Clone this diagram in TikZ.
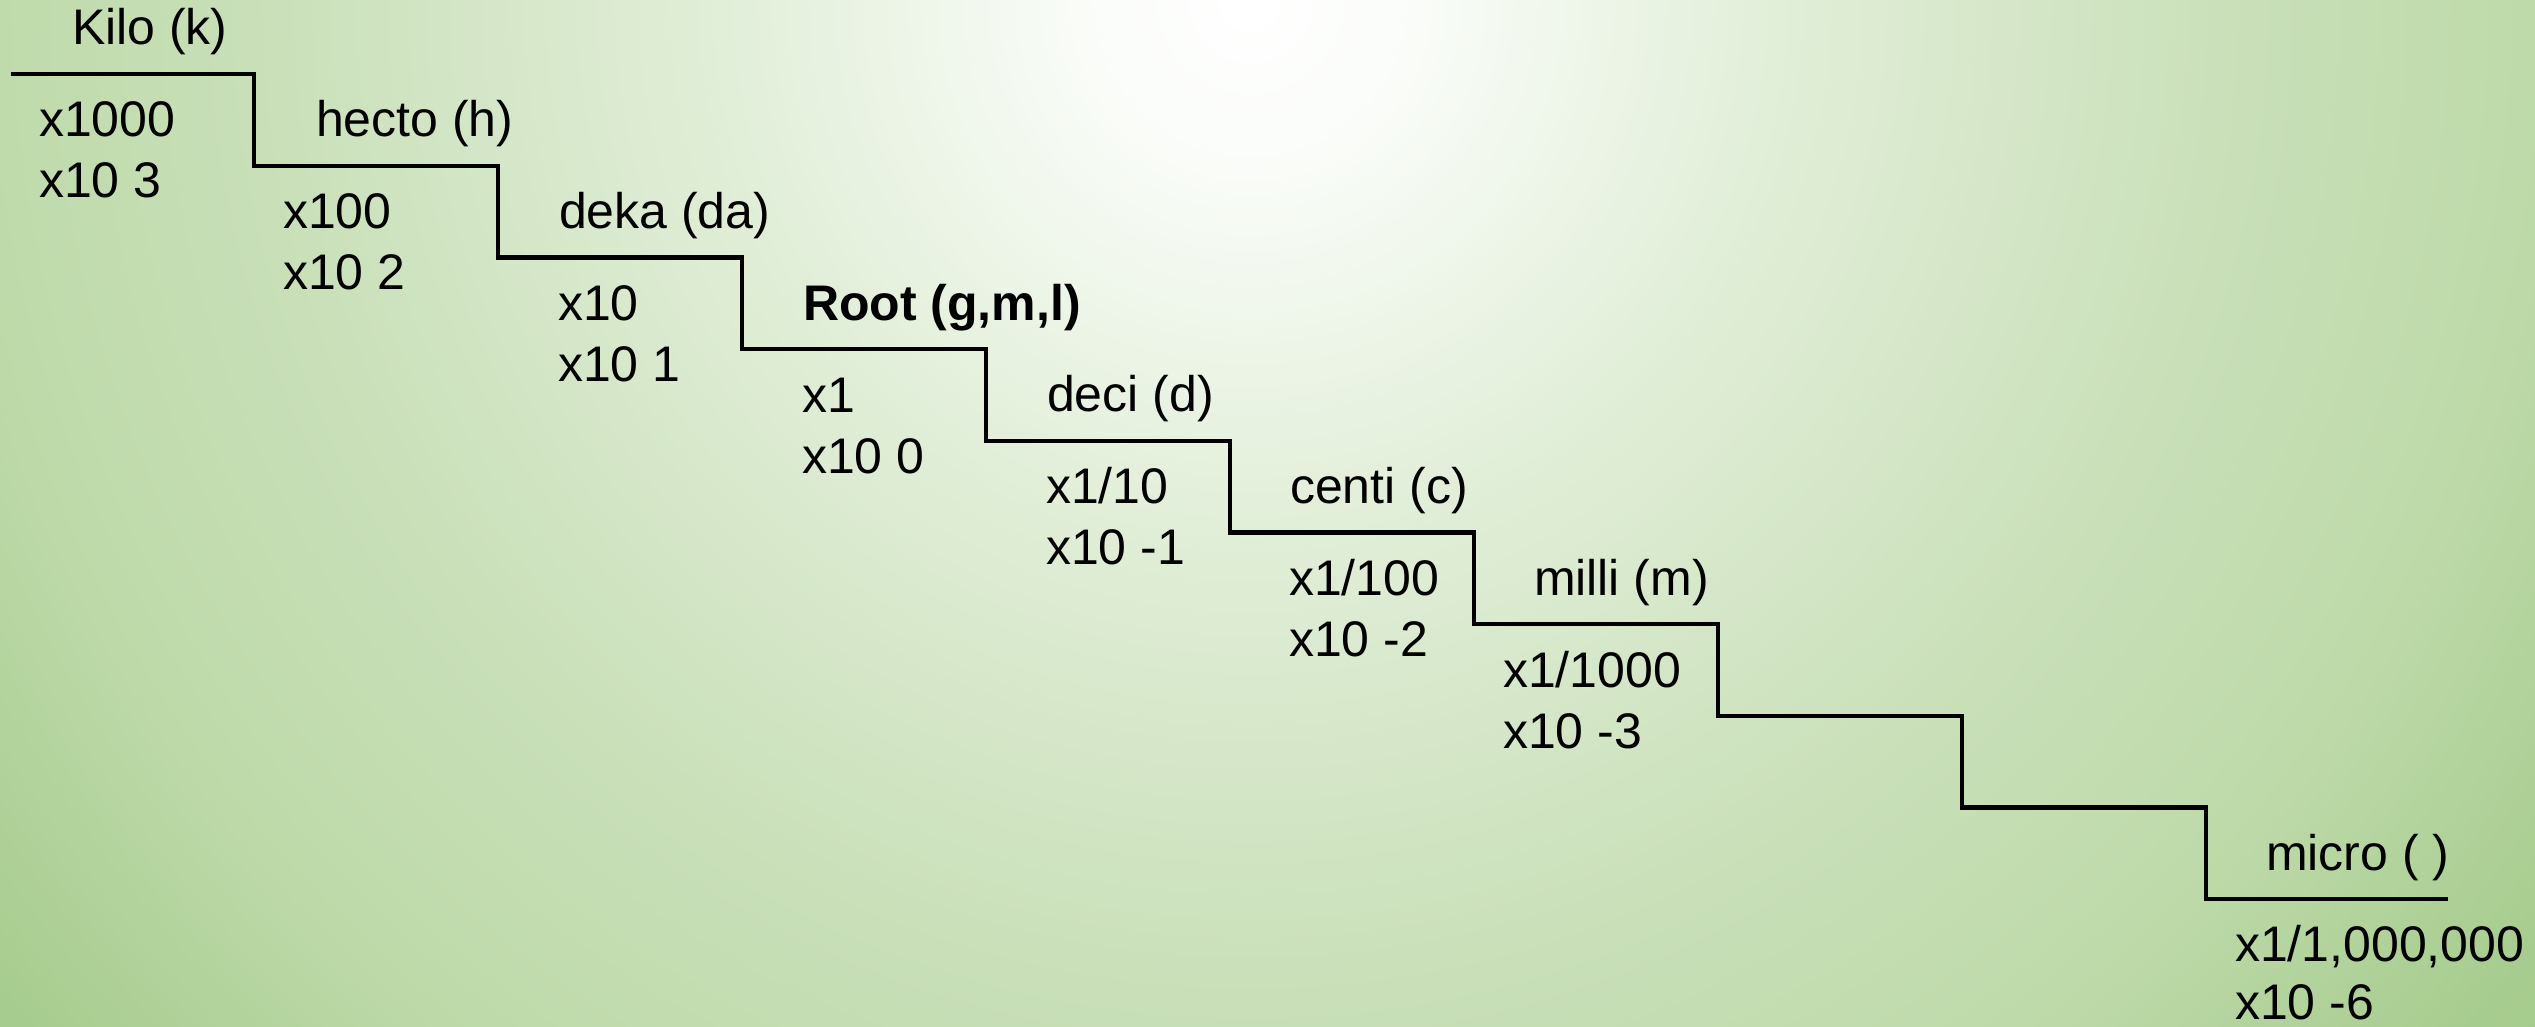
\documentclass[tikz,border=0pt]{standalone}
\usepackage{fontspec}
\setmainfont{Liberation Sans}
\pgfdeclareradialshading{bgshade}{\pgfpoint{0bp}{0bp}}{%
rgb(0bp)=(1,1,1);
rgb(2bp)=(0.98,0.99,0.975);
rgb(6.5bp)=(0.885,0.935,0.85);
rgb(12.5bp)=(0.785,0.875,0.72);
rgb(16bp)=(0.745,0.855,0.665);
rgb(20bp)=(0.655,0.80,0.56);
rgb(25bp)=(0.62,0.78,0.52);
rgb(50bp)=(0.62,0.78,0.52)}
\tikzset{
  stairline/.style={draw=black, line width=4.3pt, line join=miter},
  lbl/.style={anchor=base west, inner sep=0pt, outer sep=0pt, font=\fontsize{50pt}{60pt}\selectfont, text=black},
  val/.style={lbl}
}
\begin{document}
\begin{tikzpicture}[x=1pt,y=-1pt]
\useasboundingbox (0,0) rectangle (2535,1027);
\begin{scope}
\clip (0,0) rectangle (2535,1027);
\shade[shading=bgshade] (-750,-2000) rectangle (3250,2000);
\end{scope}
% staircase corners
\coordinate (s0) at (11,74);
\coordinate (a0) at (254,74);      \coordinate (b0) at (254,165.7);
\coordinate (a1) at (498,165.7);   \coordinate (b1) at (498,257.4);
\coordinate (a2) at (742,257.4);   \coordinate (b2) at (742,349.1);
\coordinate (a3) at (986,349.1);   \coordinate (b3) at (986,440.8);
\coordinate (a4) at (1230,440.8);  \coordinate (b4) at (1230,532.5);
\coordinate (a5) at (1474,532.5);  \coordinate (b5) at (1474,624.2);
\coordinate (a6) at (1718,624.2);  \coordinate (b6) at (1718,715.9);
\coordinate (a7) at (1962,715.9);  \coordinate (b7) at (1962,807.6);
\coordinate (a8) at (2206,807.6);  \coordinate (b8) at (2206,899.3);
\coordinate (e9) at (2448,899.3);
\draw[stairline] (s0) -- (a0) -- (b0) -- (a1) -- (b1) -- (a2) -- (b2) -- (a3) -- (b3)
  -- (a4) -- (b4) -- (a5) -- (b5) -- (a6) -- (b6) -- (a7) -- (b7) -- (a8) -- (b8) -- (e9);
% labels
\node[lbl] (kilo)  at (72,45)     {Kilo (k)};
\node[lbl] (hecto) at (316,136.7) {hecto (h)};
\node[lbl] (deka)  at (559,228.4) {deka (da)};
\node[lbl,font=\fontsize{50pt}{60pt}\selectfont\bfseries] (root) at (803,320.1) {Root (g,m,l)};
\node[lbl] (deci)  at (1047,411.8) {deci (d)};
\node[lbl] (centi) at (1290,503.5) {centi (c)};
\node[lbl] (milli) at (1534,595.2) {milli (m)};
\node[lbl] (micro) at (2266,870.3) {micro ( )};
% values
\node[val] (k1) at (39,137)      {x1000};
\node[val] (k2) at (39,198)      {x10 3};
\node[val] (h1) at (283,228.7)   {x100};
\node[val] (h2) at (283,289.7)   {x10 2};
\node[val] (d1) at (558,320.4)   {x10};
\node[val] (d2) at (558,381.4)   {x10 1};
\node[val] (r1) at (802,412.1)   {x1};
\node[val] (r2) at (802,473.1)   {x10 0};
\node[val] (c1) at (1046,503.8)  {x1/10};
\node[val] (c2) at (1046,564.8)  {x10 -1};
\node[val] (n1) at (1289,595.5)  {x1/100};
\node[val] (n2) at (1289,656.5)  {x10 -2};
\node[val] (m1) at (1503,687.2)  {x1/1000};
\node[val] (m2) at (1503,748.2)  {x10 -3};
\node[val] (u1) at (2235,961)    {x1/1,000,000};
\node[val] (u2) at (2235,1019)   {x10 -6};
\end{tikzpicture}
\end{document}
